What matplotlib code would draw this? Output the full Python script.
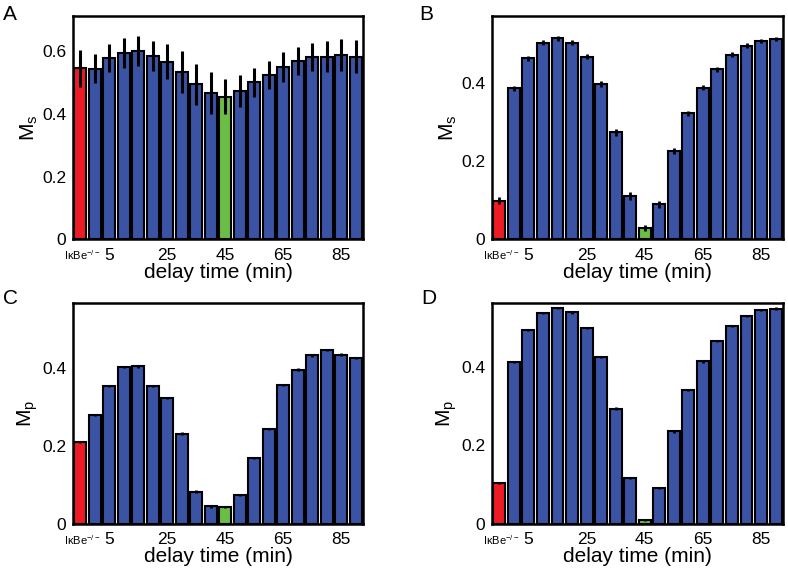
import matplotlib.pyplot as plt
import numpy as np

plt.rcParams['font.family'] = ['Liberation Sans', 'DejaVu Sans']
plt.rcParams['mathtext.default'] = 'regular'

# bar 0 = IkBe-/- control, then delay times 0..90 min
delays = [0, 5, 10, 15, 20, 25, 30, 35, 40, 45, 50, 55, 60, 65, 70, 75, 80, 85, 90]
tick_delays = [5, 25, 45, 65, 85]

ms_a = [0.545, 0.544, 0.579, 0.595, 0.600, 0.586, 0.567, 0.535, 0.494, 0.467,
        0.455, 0.472, 0.501, 0.523, 0.551, 0.568, 0.581, 0.583, 0.588, 0.583]
err_a = [0.060, 0.047, 0.044, 0.048, 0.047, 0.048, 0.056, 0.067, 0.066, 0.066,
         0.055, 0.051, 0.046, 0.045, 0.048, 0.045, 0.045, 0.049, 0.051, 0.053]

ms_b = [0.099, 0.386, 0.463, 0.503, 0.514, 0.503, 0.467, 0.397, 0.274, 0.111,
        0.028, 0.090, 0.226, 0.322, 0.388, 0.435, 0.472, 0.495, 0.508, 0.512]
err_b = [0.009, 0.006, 0.006, 0.006, 0.006, 0.006, 0.007, 0.008, 0.009, 0.010,
         0.008, 0.009, 0.008, 0.007, 0.006, 0.006, 0.006, 0.006, 0.005, 0.005]

mp_c = [0.210, 0.279, 0.352, 0.401, 0.403, 0.353, 0.322, 0.231, 0.083, 0.045,
        0.043, 0.074, 0.169, 0.243, 0.356, 0.395, 0.431, 0.445, 0.433, 0.424]
err_c = [0.003] * 20

mp_d = [0.104, 0.413, 0.495, 0.538, 0.551, 0.539, 0.500, 0.426, 0.294, 0.117,
        0.011, 0.092, 0.236, 0.342, 0.414, 0.466, 0.505, 0.530, 0.546, 0.549]
err_d = [0.003] * 20

blue = '#3a53a4'
red = '#ed1c24'
green = '#6abd45'

panels = [
    ('A', ms_a, err_a, 'M$_s$', [0.0926, 0.584, 0.368, 0.388], 0.712, [0, 0.2, 0.4, 0.6], 2.2, (0.004, 0.992)),
    ('B', ms_b, err_b, 'M$_s$', [0.6245, 0.584, 0.369, 0.388], 0.571, [0, 0.2, 0.4], 2.0, (0.532, 0.992)),
    ('C', mp_c, err_c, 'M$_p$', [0.0926, 0.0887, 0.368, 0.385], 0.566, [0, 0.2, 0.4], 2.0, (0.004, 0.497)),
    ('D', mp_d, err_d, 'M$_p$', [0.6245, 0.0887, 0.369, 0.385], 0.564, [0, 0.2, 0.4], 2.0, (0.535, 0.497)),
]

fig = plt.figure(figsize=(7.88, 5.75), dpi=100)

for letter, vals, errs, ylab, pos, ymax, yticks, elw, lpos in panels:
    ax = fig.add_axes(pos)
    x = np.arange(len(vals))
    colors = [red] + [green if d == 45 else blue for d in delays]
    ax.bar(x, vals, width=0.82, color=colors, edgecolor='black', linewidth=1.5, zorder=2)
    ax.errorbar(x, vals, yerr=errs, fmt='none', ecolor='black', elinewidth=elw, capsize=0, zorder=3)
    ax.set_xlim(-0.5, len(vals) - 0.5)
    ax.set_ylim(0, ymax)
    ax.set_yticks(yticks)
    ax.set_yticklabels(['0' if t == 0 else f'{t:g}' for t in yticks])
    ax.set_xticks([delays.index(d) + 1 for d in tick_delays])
    ax.set_xticklabels([str(d) for d in tick_delays])
    ax.tick_params(length=0, labelsize=12.5)
    ax.tick_params(axis='x', pad=6)
    ax.tick_params(axis='y', pad=5)
    for s in ax.spines.values():
        s.set_linewidth(1.8)
    ax.set_xlabel('delay time (min)', fontsize=15, labelpad=0)
    ax.set_ylabel(ylab, fontsize=15, labelpad=1.5)
    ax.text(0.12, -0.04, r'I$\kappa$Be$^{-/-}$', transform=ax.get_xaxis_transform(),
            ha='center', va='top', fontsize=8)
    fig.text(lpos[0], lpos[1], letter, fontsize=15, va='top', ha='left')

fig.savefig('out.png', dpi=100)
